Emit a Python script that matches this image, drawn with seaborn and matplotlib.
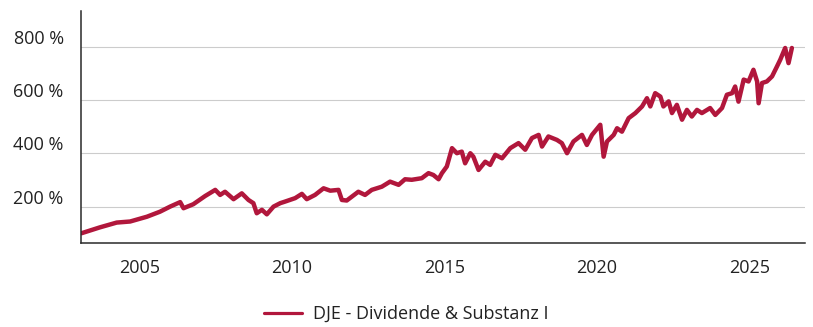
import matplotlib
matplotlib.use("Agg")
import matplotlib.pyplot as plt
from matplotlib.transforms import ScaledTranslation
from matplotlib.lines import Line2D
import pandas as pd
import seaborn as sns

# Fund performance (cumulative, in %), sampled along the time axis (decimal years)
years = [
    2003.11, 2003.71, 2004.26, 2004.70, 2005.25, 2005.68, 2006.01, 2006.34, 2006.45, 2006.77,
    2007.16, 2007.49, 2007.65, 2007.81, 2008.09, 2008.36, 2008.58, 2008.74, 2008.85, 2009.02,
    2009.18, 2009.40, 2009.62, 2009.78, 2010.11, 2010.33, 2010.49, 2010.76, 2011.04, 2011.26,
    2011.53, 2011.64, 2011.80, 2012.18, 2012.40, 2012.62, 2012.95, 2013.22, 2013.50, 2013.71,
    2013.93, 2014.26, 2014.48, 2014.64, 2014.81, 2014.92, 2015.08, 2015.25, 2015.41, 2015.57,
    2015.68, 2015.85, 2015.95, 2016.12, 2016.34, 2016.50, 2016.67, 2016.89, 2017.16, 2017.43,
    2017.65, 2017.87, 2018.09, 2018.20, 2018.41, 2018.69, 2018.85, 2019.02, 2019.23, 2019.51,
    2019.67, 2019.84, 2020.11, 2020.22, 2020.33, 2020.55, 2020.66, 2020.82, 2021.04, 2021.26,
    2021.48, 2021.64, 2021.75, 2021.91, 2022.08, 2022.18, 2022.35, 2022.46, 2022.62, 2022.79,
    2022.95, 2023.11, 2023.28, 2023.44, 2023.71, 2023.88, 2024.10, 2024.26, 2024.43, 2024.53,
    2024.64, 2024.81, 2024.97, 2025.13, 2025.25, 2025.30, 2025.41, 2025.57, 2025.74, 2025.90,
    2026.01, 2026.17, 2026.28, 2026.39,
]
performance = [
    100, 122, 140, 144, 162, 181, 200, 217, 194, 209,
    240, 263, 244, 256, 228, 250, 225, 213, 175, 188,
    171, 200, 213, 219, 232, 248, 228, 244, 269, 260,
    263, 225, 223, 256, 244, 263, 275, 294, 282, 303,
    301, 307, 326, 319, 303, 326, 351, 420, 401, 407,
    363, 401, 388, 338, 369, 357, 395, 382, 420, 439,
    414, 458, 470, 426, 464, 451, 439, 401, 445, 470,
    432, 470, 508, 388, 445, 470, 495, 482, 533, 552,
    577, 608, 577, 627, 614, 577, 596, 552, 583, 527,
    564, 539, 564, 552, 571, 545, 571, 621, 627, 652,
    595, 678, 671, 715, 671, 589, 665, 671, 690, 727,
    753, 797, 740, 797,
]
fund_name = "DJE - Dividende & Substanz I"

x_ticks = [2005, 2010, 2015, 2020, 2025]
y_ticks = [200, 400, 600, 800]

line_color = "#b1173c"
text_color = "#222222"

sns.set_theme(style="white")
plt.rcParams["font.family"] = ["Open Sans", "DejaVu Sans"]

df = pd.DataFrame({"Jahr": years, "Wertentwicklung": performance, "Fonds": fund_name})

fig = plt.figure(figsize=(8.13, 3.27), dpi=100)
ax = fig.add_axes([81 / 813, 1 - 243.3 / 327, 724 / 813, (243.3 - 10.5) / 327])

sns.lineplot(data=df, x="Jahr", y="Wertentwicklung", color=line_color,
             linewidth=3.2, ax=ax, legend=False, solid_joinstyle="round")

ax.set_xlim(2003.09, 2026.82)
ax.set_ylim(62, 938)
ax.set_xticks(x_ticks)
ax.set_xticklabels([str(y) for y in x_ticks])
ax.set_yticks(y_ticks)
ax.set_yticklabels([f"{v} %" for v in y_ticks])
ax.set_xlabel("")
ax.set_ylabel("")

ax.grid(axis="y", color="#cccccc", linewidth=0.8)
ax.grid(axis="x", visible=False)
ax.set_axisbelow(True)

for side in ("top", "right"):
    ax.spines[side].set_visible(False)
for side in ("left", "bottom"):
    ax.spines[side].set_color("#2a2a2a")
    ax.spines[side].set_linewidth(1.1)

ax.tick_params(axis="x", length=0, pad=11.0, labelsize=13, labelcolor=text_color)
ax.tick_params(axis="y", length=0, pad=12.5, labelsize=13, labelcolor=text_color)

# y labels sit slightly above their grid lines
shift = ScaledTranslation(0, 10 / 100, fig.dpi_scale_trans)
for lbl in ax.get_yticklabels():
    lbl.set_transform(lbl.get_transform() + shift)

handle = Line2D([], [], color=line_color, linewidth=2.3, solid_capstyle="round")
fig.legend([handle], [fund_name], loc="center", bbox_to_anchor=(0.5, 1 - 314 / 327),
           frameon=False, fontsize=13, handlelength=2.1, handletextpad=0.6,
           labelcolor=text_color)

fig.savefig("out.png", dpi=100)
